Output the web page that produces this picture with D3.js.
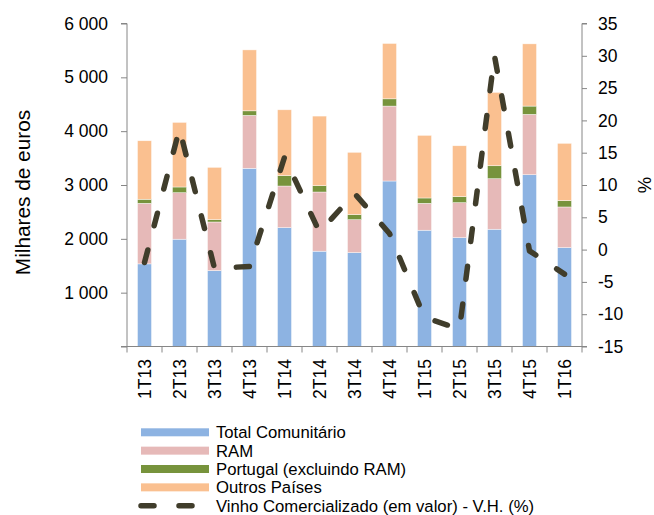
<!DOCTYPE html>
<html>
<head>
<meta charset="utf-8">
<script src="https://cdn.jsdelivr.net/npm/d3@7/dist/d3.min.js"></script>
<style>
    body { margin: 0; background: #fff; }
    svg { display: block; font-family: Arial, "Liberation Sans", sans-serif; }
    .axis path, .axis line { stroke: #868686; }
    .axis text { fill: #000; font-size: 17.5px; }
</style>
</head>
<body>
<div id="chart"></div>
<script>
// dados (milhares de euros)
const categories = ['1T13', '2T13', '3T13', '4T13', '1T14', '2T14', '3T14', '4T14', '1T15', '2T15', '3T15', '4T15', '1T16'];
const totalComunitario = [1535, 1993, 1410, 3310, 2208, 1770, 1744, 3074, 2160, 2022, 2178, 3191, 1837];
const ram = [1125, 864, 903, 983, 773, 1100, 612, 1392, 500, 650, 939, 1121, 755];
const portugal = [75, 106, 43, 85, 192, 117, 93, 135, 99, 111, 241, 154, 117];
const outrosPaises = [1087, 1200, 972, 1132, 1224, 1293, 1158, 1028, 1163, 946, 1362, 1156, 1065];
// variação homóloga (%)
const vinhoVH = [-2, 18.7, -2.9, -2.6, 14.3, 2.7, 8.7, 2.5, -10.5, -12.3, 30, -0.2, -3.8];

const leftTicks = [0, 1000, 2000, 3000, 4000, 5000, 6000];
const rightTicks = [-15, -10, -5, 0, 5, 10, 15, 20, 25, 30, 35];

const series = [
    { key: 'total', label: 'Total Comunitário', values: totalComunitario, color: '#8db3e2' },
    { key: 'ram', label: 'RAM', values: ram, color: '#e6b9b8' },
    { key: 'portugal', label: 'Portugal (excluindo RAM)', values: portugal, color: '#77933c' },
    { key: 'outros', label: 'Outros Países', values: outrosPaises, color: '#fac090' }
];
const lineLabel = 'Vinho Comercializado (em valor) - V.H. (%)';
const lineColor = '#403d2b';

const width = 654, height = 515;
const plot = { left: 127, right: 582, top: 23.5, bottom: 346.5 };

const svg = d3.select('#chart').append('svg')
    .attr('width', width)
    .attr('height', height);

const x = d3.scaleBand()
    .domain(categories)
    .range([plot.left, plot.right])
    .paddingInner(0.6)
    .paddingOuter(0.3);

const yLeft = d3.scaleLinear().domain([0, 6000]).range([plot.bottom, plot.top]);
const yRight = d3.scaleLinear().domain([-15, 35]).range([plot.bottom, plot.top]);

// empilhar as séries
const rows = categories.map((c, i) => {
    const r = { cat: c };
    series.forEach(s => { r[s.key] = s.values[i]; });
    return r;
});
const stacked = d3.stack().keys(series.map(s => s.key))(rows);

svg.append('g')
    .selectAll('g')
    .data(stacked)
    .enter().append('g')
    .attr('fill', (d, i) => series[i].color)
    .selectAll('rect')
    .data(d => d)
    .enter().append('rect')
    .attr('x', d => x(d.data.cat))
    .attr('width', x.bandwidth())
    .attr('y', d => yLeft(d[1]))
    .attr('height', d => yLeft(d[0]) - yLeft(d[1]))
    .attr('stroke', '#fff')
    .attr('stroke-width', 0.6)
    .attr('stroke-opacity', 0.7);

// eixo esquerdo
const fmt = d3.formatLocale({ decimal: ',', thousands: ' ', grouping: [3], currency: ['', ''] }).format(',');
svg.append('g')
    .attr('class', 'axis')
    .attr('transform', `translate(${plot.left},0)`)
    .call(d3.axisLeft(yLeft).tickValues(leftTicks).tickSize(6).tickPadding(13)
        .tickFormat(d => d === 0 ? '' : fmt(d)))
    .call(g => g.select('.domain').attr('d', `M-6,${plot.bottom}H0V${plot.top}H-6`));

// eixo direito
svg.append('g')
    .attr('class', 'axis')
    .attr('transform', `translate(${plot.right},0)`)
    .call(d3.axisRight(yRight).tickValues(rightTicks).tickSize(5).tickPadding(11)
        .tickFormat(d => String(d)))
    .call(g => g.select('.domain').attr('d', `M5,${plot.top}H0V${plot.bottom}H5`));

// eixo horizontal
const bottom = svg.append('g').attr('class', 'axis');
bottom.append('line')
    .attr('x1', plot.left).attr('x2', plot.right)
    .attr('y1', plot.bottom).attr('y2', plot.bottom);
bottom.selectAll('.tick-mark')
    .data(d3.range(categories.length + 1))
    .enter().append('line')
    .attr('class', 'tick-mark')
    .attr('x1', i => plot.left + i * x.step())
    .attr('x2', i => plot.left + i * x.step())
    .attr('y1', plot.bottom)
    .attr('y2', plot.bottom + 6);
bottom.selectAll('.cat-label')
    .data(categories)
    .enter().append('text')
    .attr('class', 'cat-label')
    .attr('transform', d => `translate(${x(d) + x.bandwidth() / 2},${plot.bottom + 12.5}) rotate(-90)`)
    .attr('text-anchor', 'end')
    .attr('dy', '0.35em')
    .text(d => d);

// títulos dos eixos
svg.append('text')
    .attr('transform', `translate(23,192.5) rotate(-90)`)
    .attr('text-anchor', 'middle')
    .attr('dy', '0.35em')
    .attr('font-size', '20.8px')
    .text('Milhares de euros');

svg.append('text')
    .attr('transform', `translate(645,185) rotate(-90)`)
    .attr('text-anchor', 'middle')
    .attr('dy', '0.35em')
    .attr('font-size', '18.5px')
    .text('%');

// linha V.H.
const line = d3.line()
    .x((d, i) => x(categories[i]) + x.bandwidth() / 2)
    .y(d => yRight(d));

svg.append('path')
    .datum(vinhoVH)
    .attr('d', line)
    .attr('fill', 'none')
    .attr('stroke', lineColor)
    .attr('stroke-width', 5.5)
    .attr('stroke-linecap', 'round')
    .attr('stroke-linejoin', 'round')
    .attr('stroke-dasharray', '13,25');

// legenda
const legend = svg.append('g').attr('transform', 'translate(141,432.3)');
const rowH = 18.35;
series.forEach((s, i) => {
    const g = legend.append('g').attr('transform', `translate(0,${i * rowH})`);
    g.append('rect')
        .attr('x', 0).attr('y', -4)
        .attr('width', 68).attr('height', 8)
        .attr('fill', s.color);
    g.append('text')
        .attr('x', 75)
        .attr('dy', '0.35em')
        .attr('font-size', '16.7px')
        .text(s.label);
});
const lg = legend.append('g').attr('transform', `translate(0,${series.length * rowH})`);
lg.append('line')
    .attr('x1', 0).attr('x2', 68)
    .attr('stroke', lineColor)
    .attr('stroke-width', 5.5)
    .attr('stroke-linecap', 'round')
    .attr('stroke-dasharray', '13,25');
lg.append('text')
    .attr('x', 75)
    .attr('dy', '0.35em')
    .attr('font-size', '16.7px')
    .text(lineLabel);
</script>
</body>
</html>
